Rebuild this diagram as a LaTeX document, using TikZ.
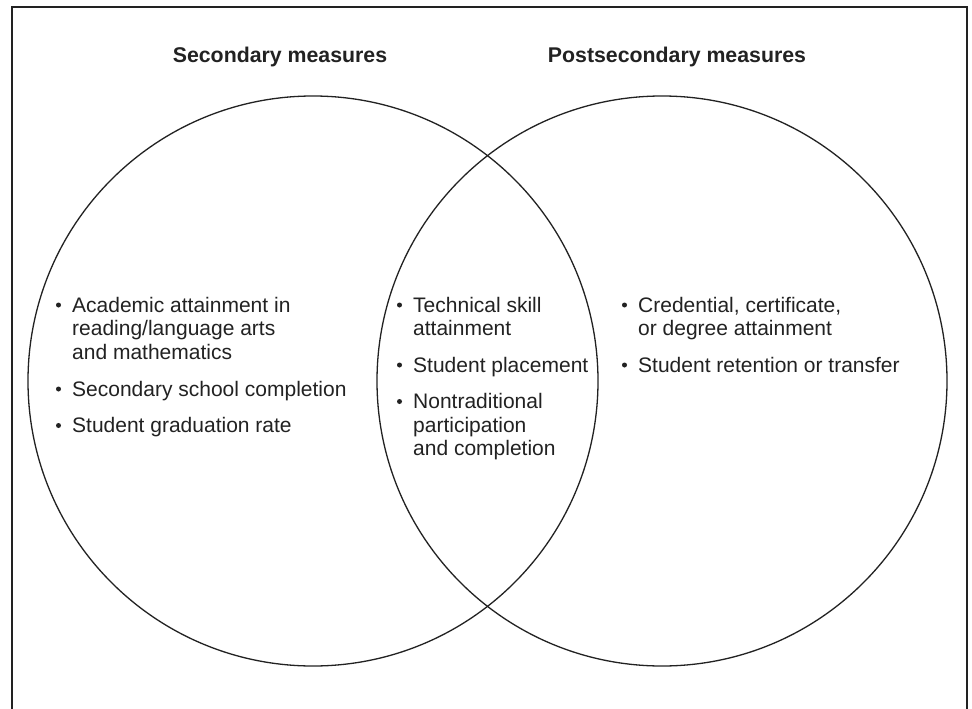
\documentclass[tikz,border=0pt]{standalone}
\usepackage{fontspec}
\setmainfont{Liberation Sans}
\newfontfamily\titlefamily{Liberation Sans}
\definecolor{ink}{HTML}{222222}
\begin{document}
\begin{tikzpicture}[x=1pt,y=-1pt,
  frameline/.style={draw=ink,line width=1.5pt},
  venn/.style={draw=ink,line width=1.3pt},
  titletext/.style={anchor=base,inner sep=0pt,text=ink,font=\titlefamily\bfseries\fontsize{21.3}{25}\selectfont},
  itemtext/.style={anchor=base west,inner sep=0pt,text=ink,font=\fontsize{21}{23.5}\selectfont},
  dot/.style={fill=ink}]
\useasboundingbox[fill=white] (0,0) rectangle (972,709);
% frame (open at the bottom)
\coordinate (fbl) at (12,709);
\coordinate (ftl) at (12,7);
\coordinate (ftr) at (967,7);
\coordinate (fbr) at (967,709);
\draw[frameline] (fbl) -- (ftl) -- (ftr) -- (fbr);
% circles
\coordinate (cl) at (313,381);
\coordinate (cr) at (662,381);
\draw[venn] (cl) circle (285pt);
\draw[venn] (cr) circle (285pt);
% titles
\node[titletext] (t1) at (280,63) {Secondary measures};
\node[titletext] (t2) at (677,63) {Postsecondary measures};
% left items
\node[itemtext] (l1) at (72,312) {\vtop{\hbox{Academic attainment in}\hbox{reading/language arts}\hbox{and mathematics}}};
\node[itemtext] (l2) at (72,396) {Secondary school completion};
\node[itemtext] (l3) at (72,432.5) {Student graduation rate};
% middle items
\node[itemtext] (m1) at (413,312) {\vtop{\hbox{Technical skill}\hbox{attainment}}};
\node[itemtext] (m2) at (413,372) {Student placement};
\node[itemtext] (m3) at (413,408.5) {\vtop{\hbox{Nontraditional}\hbox{participation}\hbox{and completion}}};
% right items
\node[itemtext] (r1) at (638,312) {\vtop{\hbox{Credential, certificate,}\hbox{or degree attainment}}};
\node[itemtext] (r2) at (638,372) {Student retention or transfer};
% bullets
\foreach \n in {l1,l2,l3,m1,m2,m3,r1,r2}{
  \fill[dot] ([shift={(-13.5,-7)}]\n.base west) circle (2.5pt);
}
\end{tikzpicture}
\end{document}
